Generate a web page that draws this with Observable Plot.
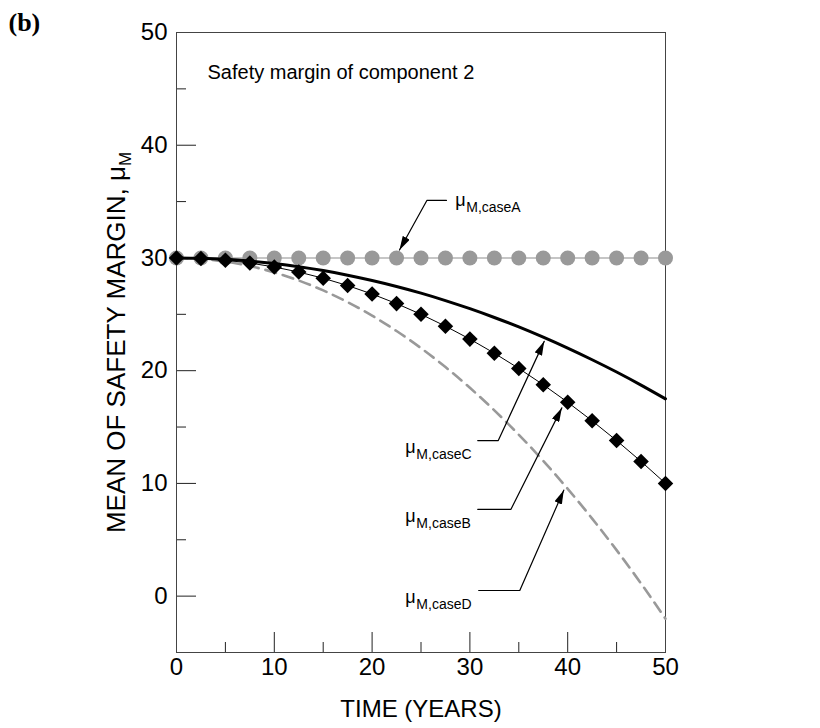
<!DOCTYPE html>
<html><head><meta charset="utf-8">
<script src="https://cdn.jsdelivr.net/npm/d3@7"></script>
<script src="https://cdn.jsdelivr.net/npm/@observablehq/plot@0.6"></script>
<style>body{margin:0;background:#fff;} #chart{width:820px;height:728px;}</style>
</head><body><div id="chart"></div>
<script>
// ---- data ----
const years = [0,2.5,5,7.5,10,12.5,15,17.5,20,22.5,25,27.5,30,32.5,35,37.5,40,42.5,45,47.5,50];
const caseA = [30,30,30,30,30,30,30,30,30,30,30,30,30,30,30,30,30,30,30,30,30];
const caseB = [30,29.95,29.8,29.55,29.2,28.75,28.2,27.55,26.8,25.95,25,23.95,22.8,21.55,20.2,18.75,17.2,15.55,13.8,11.95,10];
const caseC = [30,29.97,29.88,29.72,29.5,29.22,28.88,28.47,28,27.47,26.88,26.22,25.5,24.72,23.88,22.97,22,20.97,19.88,18.72,17.5];
const caseD = [30,29.92,29.68,29.28,28.72,28,27.12,26.08,24.88,23.52,22,20.32,18.48,16.48,14.32,12,9.52,6.88,4.08,1.12,-2];
const xMajor = [0,10,20,30,40,50];
const xMinor = [5,15,25,35,45];
const yMajor = [0,10,20,30,40,50];
const yMinor = [5,15,25,35,45];
const annoSubs = ["M,caseA","M,caseB","M,caseC","M,caseD"];
const annoLabelX = [28.5, 23.4, 23.4, 23.4];
const annoLabelY = [34.6, 6.6, 12.7, -0.6];
const leaderA = [[27.6,35.1],[25.6,35.1],[22.8,30.7]];
const leaderB = [[30.8,7.7],[34.2,7.7],[39.4,16.7]];
const leaderC = [[30.8,13.8],[32.9,13.8],[37.6,22.6]];
const leaderD = [[30.9,0.5],[35.1,0.5],[39.6,9.4]];

// ---- build ----
const W=820,H=728,mL=176,mR=155,mT=32,mB=76;
const fw=W-mL-mR, fh=H-mT-mB;
const rows = years.map((t,i)=>({t,a:caseA[i],b:caseB[i],c:caseC[i],d:caseD[i]}));
const annos = annoSubs.map((s,i)=>({sub:s,x:annoLabelX[i],y:annoLabelY[i]}));
const leaderMarks = [leaderA,leaderB,leaderC,leaderD].map(L =>
  Plot.line(L,{x:d=>d[0],y:d=>d[1],stroke:"#000",strokeWidth:1.21}));

const plot = Plot.plot({
  width:W, height:H, marginLeft:mL, marginRight:mR, marginTop:mT, marginBottom:mB,
  style:{fontFamily:"'Liberation Sans', Arial, sans-serif", fontSize:"24px", background:"#fff", color:"#000", overflow:"visible"},
  x:{domain:[0,50]}, y:{domain:[-5,50]},
  marks:[
    Plot.tickY(yMajor,{y:d=>d, insetRight:fw-20, stroke:"#222"}),
    Plot.tickY(yMinor,{y:d=>d, insetRight:fw-10, stroke:"#222"}),
    Plot.tickX(xMajor,{x:d=>d, insetTop:fh-20, stroke:"#222"}),
    Plot.tickX(xMinor,{x:d=>d, insetTop:fh-10, stroke:"#222"}),
    Plot.frame({stroke:"#444"}),
    Plot.axisY(yMajor,{tickSize:0, tickPadding:9, fontSize:24, label:null}),
    Plot.axisX(xMajor,{tickSize:0, tickPadding:5, fontSize:24, label:null}),
    Plot.line(rows,{x:"t",y:"a",stroke:"#b3b3b3",strokeWidth:1.5}),
    Plot.dot(rows,{x:"t",y:"a",r:7.5,fill:"#999",stroke:"none"}),
    Plot.line(rows,{x:"t",y:"d",stroke:"#999",strokeWidth:2.6,strokeDasharray:"11,7",curve:"natural"}),
    Plot.line(rows,{x:"t",y:"c",stroke:"#000",strokeWidth:3,curve:"natural"}),
    Plot.line(rows,{x:"t",y:"b",stroke:"#000",strokeWidth:1}),
    Plot.dot(rows,{x:"t",y:"b",symbol:"diamond2",r:7,fill:"#000",stroke:"none"}),
    ...leaderMarks,
    Plot.text(annos,{x:"x",y:"y",text:()=>"μ",fontSize:18,textAnchor:"start",lineAnchor:"bottom"}),
    Plot.text(annos,{x:"x",y:"y",text:"sub",dx:11,dy:6,fontSize:14,textAnchor:"start",lineAnchor:"bottom"}),
    Plot.text(["Safety margin of component 2"],{frameAnchor:"top-left",dx:31,dy:46,textAnchor:"start",lineAnchor:"bottom",fontSize:20}),
    Plot.text(["TIME (YEARS)"],{frameAnchor:"bottom",dy:64,lineAnchor:"bottom",fontSize:24}),
    Plot.text(["MEAN OF SAFETY MARGIN, μ"],{frameAnchor:"left",rotate:-90,dx:-60,dy:0,textAnchor:"middle",fontSize:26}),
    Plot.text(["(b)"],{frameAnchor:"top-left",dx:-168,dy:-2,textAnchor:"start",lineAnchor:"bottom",fontFamily:"'Liberation Serif', serif",fontWeight:"bold",fontSize:26})
  ]
});
document.getElementById("chart").appendChild(plot);
const svg = d3.select(plot);
const defs = svg.insert("defs",":first-child");
defs.append("marker").attr("id","ah").attr("viewBox","0 0 14 8").attr("refX",14).attr("refY",4)
  .attr("markerWidth",14).attr("markerHeight",8).attr("markerUnits","userSpaceOnUse").attr("orient","auto")
  .append("path").attr("d","M0,0L14,4L0,8Z").attr("fill","#000");
svg.selectAll("g[stroke-width='1.21'] path").attr("marker-end","url(#ah)");
svg.selectAll("text").filter(function(){ return this.textContent === "MEAN OF SAFETY MARGIN, μ"; })
  .append("tspan").attr("font-size",17).attr("dy","0.35em").text("M");
</script>
</body></html>
